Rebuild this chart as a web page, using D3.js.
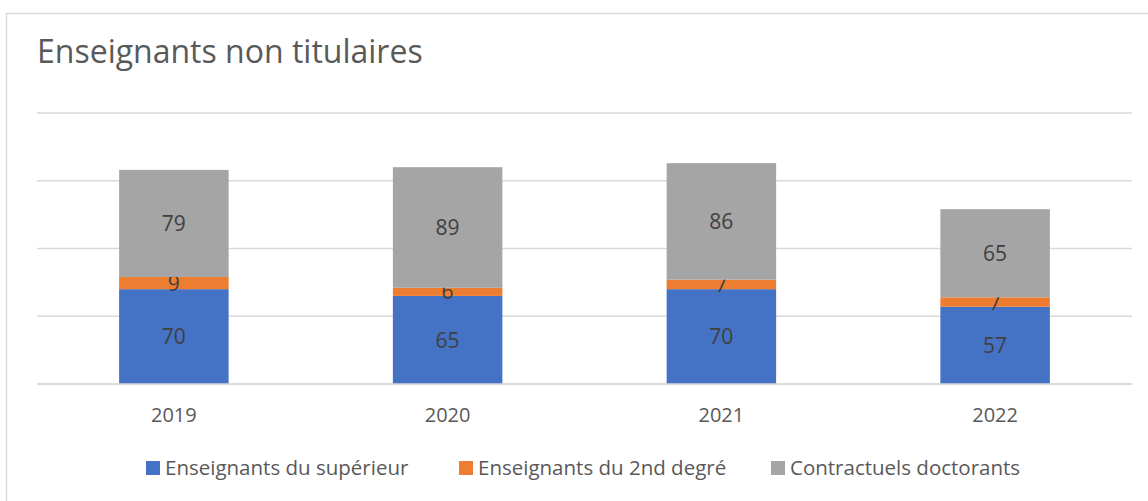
<!DOCTYPE html>
<html>
<head>
<meta charset="utf-8">
<script src="https://cdn.jsdelivr.net/npm/d3@7"></script>
<style>
  body { margin: 0; background: #fff; }
  svg { font-family: "Open Sans", "Noto Sans", sans-serif; }
</style>
</head>
<body>
<svg id="chart" width="1148" height="501"></svg>
<script>
var years = ['2019', '2020', '2021', '2022'];
var superieur = [70, 65, 70, 57];
var secondDegre = [9, 6, 7, 7];
var doctorants = [79, 89, 86, 65];
var seriesNames = ['Enseignants du supérieur', 'Enseignants du 2nd degré', 'Contractuels doctorants'];
var yTicks = [0, 50, 100, 150, 200];

var colors = ['#4472C4', '#ED7D31', '#A5A5A5'];

var svg = d3.select('#chart');

// cadre du graphique
svg.append('rect')
  .attr('x', 6.5).attr('y', 13.5)
  .attr('width', 1160).attr('height', 520)
  .attr('fill', '#fff')
  .attr('stroke', '#d9d9d9')
  .attr('stroke-width', 1.5);

svg.append('text')
  .attr('x', 37).attr('y', 63)
  .attr('fill', '#595959')
  .style('font-size', '32px')
  .text('Enseignants non titulaires');

var x = d3.scaleBand()
  .domain(years)
  .range([37, 1132])
  .paddingInner(0.6)
  .paddingOuter(0.3);

var y = d3.scaleLinear()
  .domain([0, 200])
  .range([384, 113]);

// grille
svg.append('g')
  .selectAll('line')
  .data(yTicks)
  .enter()
  .append('line')
  .attr('x1', 37).attr('x2', 1132)
  .attr('y1', d => y(d)).attr('y2', d => y(d))
  .attr('stroke', '#d9d9d9')
  .attr('stroke-width', 1.5);

var table = years.map((yr, i) => ({
  year: yr,
  s0: superieur[i],
  s1: secondDegre[i],
  s2: doctorants[i]
}));

var stack = d3.stack().keys(['s0', 's1', 's2']);
var layers = stack(table);

var g = svg.append('g');

layers.forEach((layer, li) => {
  g.selectAll('.bar' + li)
    .data(layer)
    .enter()
    .append('rect')
    .attr('class', 'bar' + li)
    .attr('x', d => x(d.data.year))
    .attr('width', x.bandwidth())
    .attr('y', d => y(d[1]))
    .attr('height', d => y(d[0]) - y(d[1]))
    .attr('fill', colors[li]);

  g.selectAll('.lab' + li)
    .data(layer)
    .enter()
    .append('text')
    .attr('x', d => x(d.data.year) + x.bandwidth() / 2)
    .attr('y', d => (y(d[0]) + y(d[1])) / 2)
    .attr('dy', '0.36em')
    .attr('text-anchor', 'middle')
    .attr('fill', '#404040')
    .style('font-size', '21px')
    .text(d => d[1] - d[0]);
});

// axe des x (baseline redrawn on top)
svg.append('line')
  .attr('x1', 37).attr('x2', 1132)
  .attr('y1', y(0)).attr('y2', y(0))
  .attr('stroke', '#d9d9d9')
  .attr('stroke-width', 1.5);

svg.append('g')
  .selectAll('text')
  .data(years)
  .enter()
  .append('text')
  .attr('x', d => x(d) + x.bandwidth() / 2)
  .attr('y', 415)
  .attr('dy', '0.36em')
  .attr('text-anchor', 'middle')
  .attr('fill', '#595959')
  .style('font-size', '20px')
  .text(d => d);

// légende
var legendX = [146, 459, 771];
var legend = svg.append('g')
  .selectAll('g')
  .data(seriesNames)
  .enter()
  .append('g')
  .attr('transform', (d, i) => 'translate(' + legendX[i] + ',0)');

legend.append('rect')
  .attr('x', 0).attr('y', 461)
  .attr('width', 14).attr('height', 14)
  .attr('fill', (d, i) => colors[i]);

legend.append('text')
  .attr('x', 19).attr('y', 468)
  .attr('dy', '0.36em')
  .attr('fill', '#595959')
  .style('font-size', '20.5px')
  .text(d => d);
</script>
</body>
</html>
